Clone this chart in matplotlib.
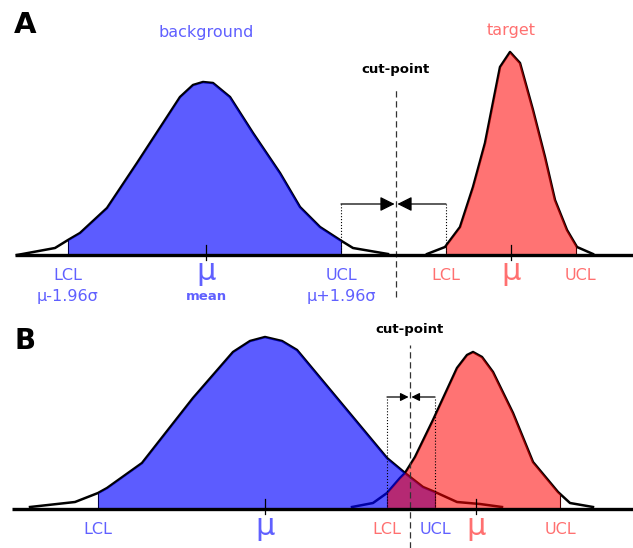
"""Background vs target distributions with confidence limits and cut-point"""
import numpy as np
import matplotlib.pyplot as plt

BLUE_TXT = "#6060ff"
RED_TXT = "#ff7070"

# Panel A: well separated distributions (position, height)
bg_a_x = [17, 55, 68, 80, 107, 137, 180, 193, 203, 213, 230, 253, 280, 300, 320, 340, 353, 388]
bg_a_h = [0, 7, 15, 22, 47, 92, 158, 170, 173, 172, 158, 122, 82, 48, 28, 15, 7, 1]
tg_a_x = [427, 445, 460, 473, 485, 500, 510, 520, 533, 545, 555, 567, 577, 593]
tg_a_h = [1, 8, 28, 68, 112, 188, 203, 192, 145, 98, 55, 25, 8, 1]
bg_a_lcl, bg_a_mu, bg_a_ucl = 68, 206, 341
tg_a_lcl, tg_a_mu, tg_a_ucl = 446, 511, 576
cut_a = 396

# Panel B: overlapping distributions
bg_b_x = [30, 75, 98, 107, 142, 193, 233, 250, 265, 282, 297, 387, 405, 423, 435, 457, 480, 502]
bg_b_h = [2, 7, 16, 21, 46, 111, 157, 168, 172, 168, 159, 51, 36, 22, 17, 7, 5, 2]
tg_b_x = [352, 373, 387, 400, 405, 415, 433, 457, 467, 473, 482, 493, 513, 533, 558, 570, 593]
tg_b_h = [2, 6, 16, 31, 36, 52, 89, 141, 154, 157, 152, 137, 96, 47, 17, 6, 2]
bg_b_lcl, bg_b_mu, bg_b_ucl = 98, 265, 435
tg_b_lcl, tg_b_mu, tg_b_ucl = 387, 476, 560
cut_b = 410


def draw_curve(ax, xs, hs, lcl, ucl, color, alpha):
    ax.plot(xs, hs, color="black", lw=1.8, zorder=2, solid_joinstyle="round")
    grid = np.linspace(lcl, ucl, 400)
    ax.fill_between(grid, 0, np.interp(grid, xs, hs), color=color, alpha=alpha,
                    lw=0, zorder=3)
    for edge in (lcl, ucl):
        ax.plot([edge, edge], [0, np.interp(edge, xs, hs)], color="black",
                lw=0.8, zorder=2.5)


def draw_cut(ax, cut, left, right, arrow_h, top, bottom, head):
    ax.plot([cut, cut], [bottom, top], color="#333333", lw=0.9, ls=(0, (5, 3)),
            zorder=4)
    for edge in (left, right):
        ax.plot([edge, edge], [0, arrow_h], color="black", lw=0.8, ls=":",
                zorder=4)
        ax.annotate("", xy=(cut, arrow_h), xytext=(edge, arrow_h),
                    arrowprops=dict(arrowstyle="-|>", color="black", lw=0.9,
                                    mutation_scale=head, shrinkA=0, shrinkB=1),
                    zorder=5)


def base_axes(fig, rect, xmin, ylim):
    ax = fig.add_axes(rect)
    ax.set_xlim(0, 633)
    ax.set_ylim(*ylim)
    ax.axis("off")
    ax.plot([xmin, 633], [0, 0], color="black", lw=2.4, zorder=6,
            solid_capstyle="butt")
    return ax


fig = plt.figure(figsize=(6.33, 5.48), dpi=100)

# ---- panel A ----
ax = base_axes(fig, [0, 238 / 548, 1, 310 / 548], 15, (-55, 255))
draw_curve(ax, bg_a_x, bg_a_h, bg_a_lcl, bg_a_ucl, (0, 0, 1), 0.64)
draw_curve(ax, tg_a_x, tg_a_h, tg_a_lcl, tg_a_ucl, (1, 0, 0), 0.55)
draw_cut(ax, cut_a, bg_a_ucl, tg_a_lcl, 51, 165, -42, 22)
for mu in (bg_a_mu, tg_a_mu):
    ax.plot([mu, mu], [-5, 10], color="black", lw=0.9, zorder=7)

ax.text(25, 230, "A", fontsize=21, fontweight="bold", ha="center", va="center")
ax.text(bg_a_mu, 223, "background", color=BLUE_TXT, fontsize=11.5,
        ha="center", va="center")
ax.text(tg_a_mu, 224, "target", color=RED_TXT, fontsize=11.5,
        ha="center", va="center")
ax.text(cut_a, 185, "cut-point", fontsize=9.5, fontweight="bold",
        ha="center", va="center")
ax.text(bg_a_lcl, -21, "LCL", color=BLUE_TXT, fontsize=11.5, ha="center", va="center")
ax.text(bg_a_lcl, -42, "μ-1.96σ", color=BLUE_TXT, fontsize=11.5, ha="center", va="center")
ax.text(bg_a_mu, -25, "μ", color=BLUE_TXT, fontsize=22, ha="center", va="baseline")
ax.text(bg_a_mu, -42, "mean", color=BLUE_TXT, fontsize=9.5, fontweight="bold",
        ha="center", va="center")
ax.text(bg_a_ucl, -21, "UCL", color=BLUE_TXT, fontsize=11.5, ha="center", va="center")
ax.text(bg_a_ucl, -42, "μ+1.96σ", color=BLUE_TXT, fontsize=11.5, ha="center", va="center")
ax.text(tg_a_lcl, -21, "LCL", color=RED_TXT, fontsize=11.5, ha="center", va="center")
ax.text(tg_a_mu, -25, "μ", color=RED_TXT, fontsize=22, ha="center", va="baseline")
ax.text(tg_a_ucl + 4, -21, "UCL", color=RED_TXT, fontsize=11.5, ha="center", va="center")

# ---- panel B ----
ax = base_axes(fig, [0, 0, 1, 238 / 548], 12, (-39, 199))
draw_curve(ax, bg_b_x, bg_b_h, bg_b_lcl, bg_b_ucl, (0, 0, 1), 0.64)
draw_curve(ax, tg_b_x, tg_b_h, tg_b_lcl, tg_b_ucl, (1, 0, 0), 0.55)
draw_cut(ax, cut_b, tg_b_lcl, bg_b_ucl, 112, 164, -39, 12)
for mu in (bg_b_mu, tg_b_mu):
    ax.plot([mu, mu], [-5, 10], color="black", lw=0.9, zorder=7)

ax.text(25, 168, "B", fontsize=20, fontweight="bold", ha="center", va="center")
ax.text(cut_b, 180, "cut-point", fontsize=9.5, fontweight="bold",
        ha="center", va="center")
ax.text(bg_b_lcl, -21, "LCL", color=BLUE_TXT, fontsize=11.5, ha="center", va="center")
ax.text(bg_b_mu, -26, "μ", color=BLUE_TXT, fontsize=22, ha="center", va="baseline")
ax.text(tg_b_lcl, -21, "LCL", color=RED_TXT, fontsize=11.5, ha="center", va="center")
ax.text(bg_b_ucl, -21, "UCL", color=BLUE_TXT, fontsize=11.5, ha="center", va="center")
ax.text(tg_b_mu, -26, "μ", color=RED_TXT, fontsize=22, ha="center", va="baseline")
ax.text(tg_b_ucl, -21, "UCL", color=RED_TXT, fontsize=11.5, ha="center", va="center")

fig.savefig("out.png", dpi=100)
